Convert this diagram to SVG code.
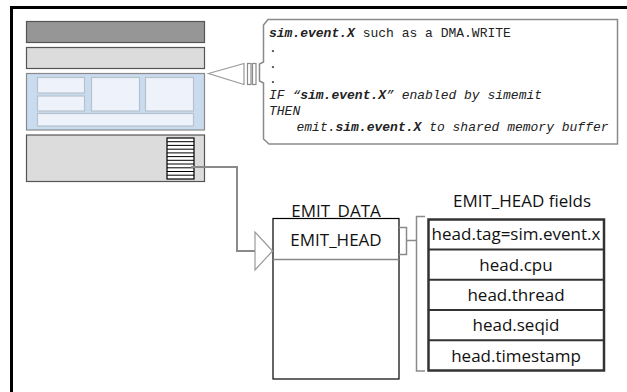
<svg xmlns="http://www.w3.org/2000/svg" width="627" height="392" viewBox="0 0 627 392">
  <style>
    .sans { font-family: "Open Sans", "DejaVu Sans", sans-serif; fill: #111; }
    .mono { font-family: "Liberation Mono", "Courier New", monospace; font-size: 13px; fill: #222; }
    .b { font-weight: bold; }
    .i { font-style: italic; }
    .panel-dark { fill: #969696; stroke: #555; stroke-width: 1.2; }
    .panel-light { fill: #dcdcdc; stroke: #555; stroke-width: 1.2; }
    .panel-blue { fill: #c9dbee; stroke: #8a8a8a; stroke-width: 1.2; }
    .cell { fill: #eef3fb; stroke: #b8c2cc; stroke-width: 1.2; }
    .conn { fill: none; stroke: #8a8a8a; stroke-width: 2; }
    .hollow { fill: #fff; stroke: #9a9a9a; stroke-width: 1.2; }
    .field { fill: #fff; stroke: #333; stroke-width: 2.5; }
  </style>

  <!-- frame -->
  <path d="M11.5 392 V7.5 H627" fill="none" stroke="#000" stroke-width="3"/>

  <!-- simulator block stack -->
  <g id="panel-top">
    <rect class="panel-dark" x="26.5" y="21.5" width="178" height="21"/>
  </g>
  <g id="panel-second">
    <rect class="panel-light" x="26.5" y="47.5" width="178" height="21"/>
  </g>
  <g id="panel-blue">
    <rect class="panel-blue" x="26.5" y="73.5" width="178" height="56.5"/>
    <rect class="cell" x="37.5" y="77.5" width="47" height="15.5"/>
    <rect class="cell" x="37.5" y="96" width="47" height="15"/>
    <rect class="cell" x="91.5" y="77.5" width="48" height="33.5"/>
    <rect class="cell" x="145.5" y="77.5" width="48" height="33.5"/>
    <rect class="cell" x="37.5" y="113.5" width="156" height="12.5"/>
  </g>
  <g id="panel-bottom">
    <rect class="panel-light" x="26.5" y="135" width="178" height="46.5"/>
    <rect x="167" y="138" width="27" height="41" fill="#fff" stroke="#000" stroke-width="1.2"/>
    <path d="M167 141.7 H194 M167 145.4 H194 M167 149.2 H194 M167 152.9 H194 M167 156.6 H194 M167 160.3 H194 M167 164 H194 M167 167.8 H194 M167 171.5 H194 M167 175.2 H194" stroke="#000" stroke-width="1"/>
  </g>

  <!-- callout with pseudo code -->
  <g id="callout">
    <path d="M268 19.5 H617.5 V144 H269 L263.5 139 V83 L259.5 81 V64 L263.5 62 V25 Z" fill="#fff" stroke="#8a8a8a" stroke-width="1.5"/>
    <text class="mono" x="269" y="37"><tspan class="b i">sim.event.X</tspan> such as a DMA.WRITE</text>
    <text class="mono" x="269" y="52">.</text>
    <text class="mono" x="269" y="68">.</text>
    <text class="mono" x="269" y="83">.</text>
    <text class="mono i" x="269" y="99">IF “<tspan class="b">sim.event.X</tspan>” enabled by simemit</text>
    <text class="mono i" x="269" y="115">THEN</text>
    <text class="mono i" x="296.5" y="131">emit.<tspan class="b">sim.event.X</tspan> to shared memory buffer</text>
  </g>

  <!-- EMIT_DATA record -->
  <g id="emit-data">
    <text class="sans" x="336" y="217" font-size="17" text-anchor="middle">EMIT_DATA</text>
    <rect x="273" y="218.5" width="126" height="160.5" fill="#fff" stroke="#000" stroke-width="1.2"/>
    <line x1="273" y1="259.5" x2="399" y2="259.5" stroke="#888" stroke-width="1.5"/>
    <text class="sans" x="336" y="246" font-size="17" text-anchor="middle">EMIT_HEAD</text>
  </g>

  <!-- EMIT_HEAD field table -->
  <g id="emit-head-fields">
    <text class="sans" x="522" y="207" font-size="17" text-anchor="middle">EMIT_HEAD fields</text>
    <rect class="field" x="428.5" y="219.5" width="175.5" height="151"/>
    <path d="M428.5 249.5 H604 M428.5 279.8 H604 M428.5 310 H604 M428.5 340.3 H604" stroke="#333" stroke-width="2"/>
    <text class="sans" x="516" y="240" font-size="17" text-anchor="middle">head.tag=sim.event.x</text>
    <text class="sans" x="516" y="270.5" font-size="17" text-anchor="middle">head.cpu</text>
    <text class="sans" x="516" y="301" font-size="17" text-anchor="middle">head.thread</text>
    <text class="sans" x="516" y="331" font-size="17" text-anchor="middle">head.seqid</text>
    <text class="sans" x="516" y="361.5" font-size="17" text-anchor="middle">head.timestamp</text>
  </g>

  <!-- connectors -->
  <g id="connectors">
    <!-- callout pointer into the blue panel -->
    <path class="hollow" d="M208.5 73.5 L244 63.5 V84.5 Z"/>
    <rect x="247.5" y="63.5" width="3.5" height="21" fill="#fff" stroke="#8a8a8a" stroke-width="1.2"/>
    <rect x="252.5" y="63.5" width="3.5" height="21" fill="#fff" stroke="#8a8a8a" stroke-width="1.2"/>
    <!-- shared buffer to EMIT_DATA -->
    <path class="conn" d="M191 167 H237 V251 H255"/>
    <path class="hollow" d="M272.5 251 L255 232 V270 Z"/>
    <!-- EMIT_HEAD expanded into its fields -->
    <path d="M399 227.5 H406.5 V254.5 H399" fill="none" stroke="#8a8a8a" stroke-width="1.5"/>
    <path d="M406.5 240.5 H416.5" fill="none" stroke="#8a8a8a" stroke-width="1.5"/>
    <path d="M425 216.5 H416.5 V371 H425" fill="none" stroke="#8a8a8a" stroke-width="1.5"/>
  </g>
</svg>
